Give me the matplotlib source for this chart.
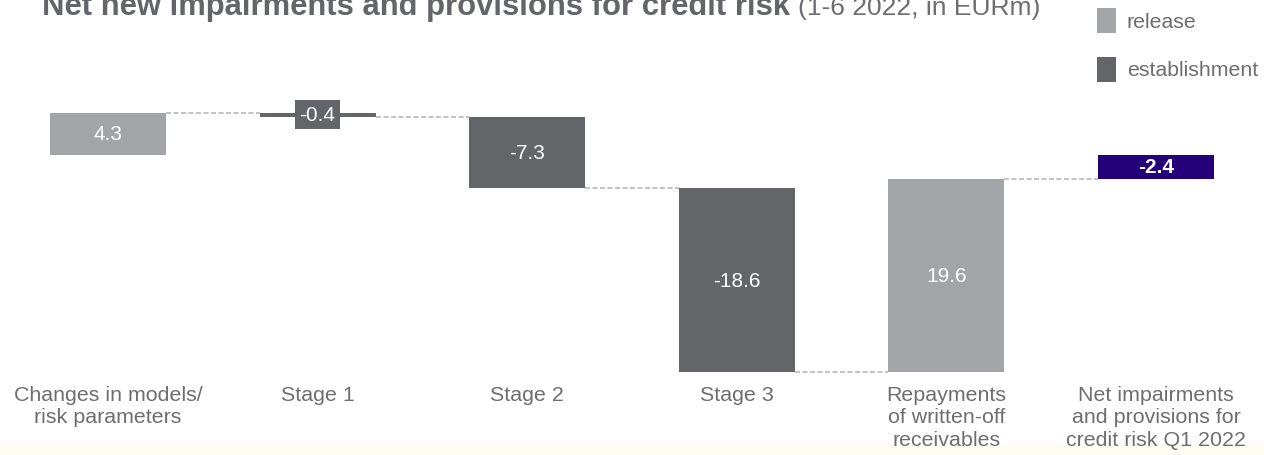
import numpy as np
import matplotlib
matplotlib.use('Agg')
import matplotlib.pyplot as plt
from matplotlib.patches import Rectangle
import matplotlib.transforms as mtransforms

plt.rcParams['font.family'] = ['Liberation Sans', 'DejaVu Sans']

categories = ['Changes in models/\nrisk parameters', 'Stage 1', 'Stage 2', 'Stage 3',
              'Repayments\nof written-off\nreceivables',
              'Net impairments\nand provisions for\ncredit risk Q1 2022']
steps = [4.3, -0.4, -7.3, -18.6, 19.6]
total = round(sum(steps), 1)
labels = ['4.3', '-0.4', '-7.3', '-18.6', '19.6', '-2.4']
legend_labels = ['release', 'establishment']

c_release = '#a3a4a7'
c_estab = '#646569'
c_total = '#24007a'
c_text = '#6d6e71'
c_conn = '#b8b9bb'

W, H = 1264, 456
fig = plt.figure(figsize=(W/100, H/100), dpi=100)
fig.patch.set_facecolor('white')
# light strip at the bottom, behind everything
fig.patches.append(Rectangle((0, 0), 1, 11/H, transform=fig.transFigure,
                             facecolor='#fffdf3', edgecolor='none', zorder=-5))

ax = fig.add_axes([0, 0, 1, 1])
ax.set_facecolor('none')
ax.axis('off')
ax.set_xlim(-0.515, 5.515)
ax.set_ylim(-30.46, 15.84)

bw = 0.553
x = np.arange(len(categories))
starts = np.concatenate([[0], np.cumsum(steps)[:-1]])
ends = np.cumsum(steps)

for i, (s, v) in enumerate(zip(starts, steps)):
    col = c_release if v > 0 else c_estab
    ax.bar(x[i], v, bottom=s, width=bw, color=col, zorder=2)
ax.bar(x[-1], total, bottom=0, width=bw, color=c_total, zorder=2)

# connectors
for i in range(len(steps)):
    lv = ends[i]
    ax.plot([x[i] + bw/2, x[i+1] - bw/2], [lv, lv], color=c_conn, lw=1.2,
            ls=(0, (3, 1.5)), zorder=1)

# value labels
mids = list(starts + np.array(steps)/2) + [total/2]
for i in range(len(categories)):
    if i == 1:
        ax.text(x[i], mids[i], labels[i], ha='center', va='center', color='white',
                fontsize=15, zorder=4,
                bbox=dict(facecolor=c_estab, edgecolor='none', pad=3.5))
    elif i == len(categories) - 1:
        ax.text(x[i], mids[i], labels[i], ha='center', va='center', color='white',
                fontsize=15, fontweight='bold', zorder=4)
    else:
        ax.text(x[i], mids[i], labels[i], ha='center', va='center', color='white',
                fontsize=15, zorder=4)

# category labels
trans = mtransforms.blended_transform_factory(ax.transData, fig.transFigure)
for i, c in enumerate(categories):
    ax.text(x[i], 1 - 386/H, c, transform=trans, ha='center', va='top',
            fontsize=15.4, color=c_text, linespacing=1.22, zorder=5)

# title
t1 = fig.text(42/W, 1 - 15/H, 'Net new impairments and provisions for credit risk',
              fontsize=22.3, fontweight='bold', color=c_estab, va='baseline')
fig.canvas.draw()
bb = t1.get_window_extent()
fig.text(bb.x1/W + 8/W, 1 - 15/H, '(1-6 2022, in EURm)', fontsize=19, color=c_text,
         va='baseline')

# legend
for j, (lab, col) in enumerate(zip(legend_labels, [c_release, c_estab])):
    y0 = 9 + j*49
    fig.patches.append(Rectangle((1097/W, 1 - (y0 + 25)/H), 19/W, 25/H,
                                 transform=fig.transFigure, facecolor=col,
                                 edgecolor='none'))
    fig.text(1127/W, 1 - (y0 + 13)/H, lab, fontsize=15.3, color=c_text,
             va='center', ha='left')

fig.savefig('out.png', dpi=100)
